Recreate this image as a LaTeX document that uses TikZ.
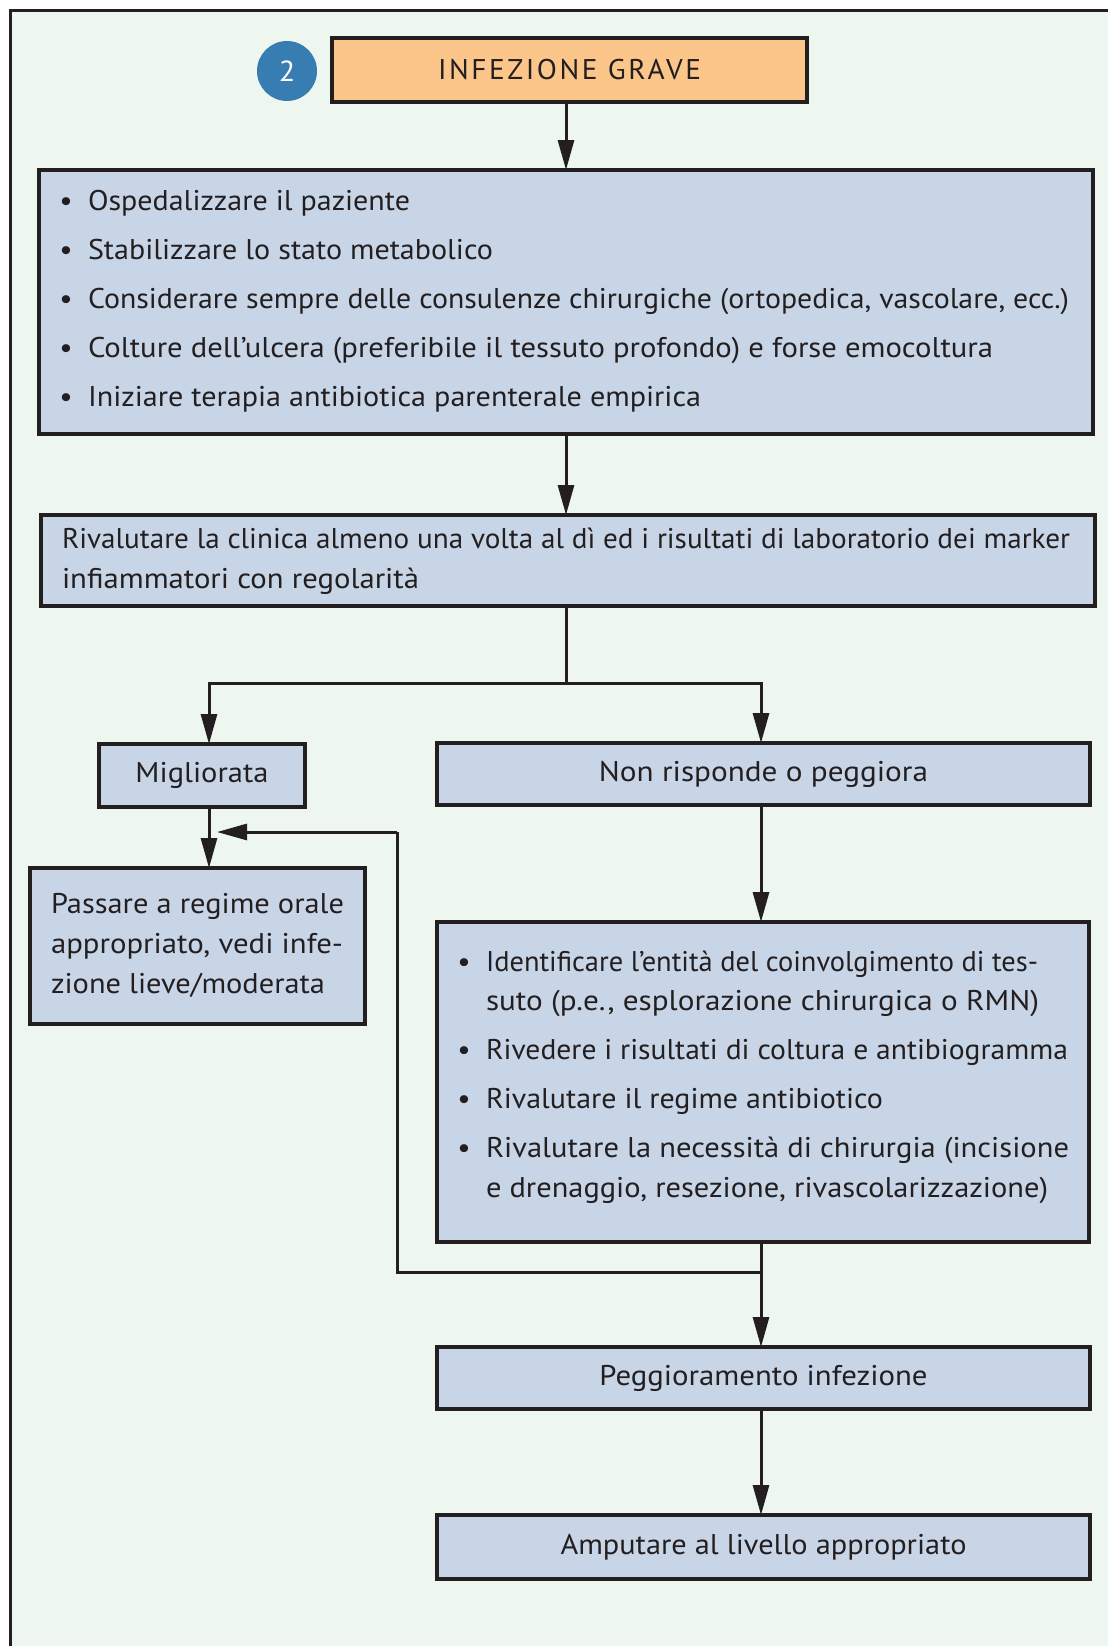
\documentclass[tikz,border=0pt]{standalone}
\usepackage{fontspec}
\setmainfont{PT Sans}[FakeStretch=1.04]
\usetikzlibrary{arrows.meta}

\definecolor{ink}{HTML}{231F20}
\definecolor{paper}{HTML}{EDF7EF}
\definecolor{boxblue}{HTML}{C8D5E7}
\definecolor{boxorange}{HTML}{FCC68A}
\definecolor{badge}{HTML}{377DB1}

% set a line of text to a given width (in pt), keeping its height
\newcommand\fitw[2]{\resizebox{#1pt}{\height}{#2}}

\tikzset{
  frame/.style={draw=ink, line width=3pt, fill=paper},
  box/.style={draw=ink, line width=3.4pt, fill=boxblue, inner sep=0pt, outer sep=0pt,
    font=\fontsize{28.5}{34}\selectfont, text=ink},
  headbox/.style={box, fill=boxorange},
  txt/.style={inner sep=0pt, outer sep=0pt, font=\fontsize{28.5}{34}\selectfont, text=ink},
  bul/.style={txt, anchor=base},
  line/.style={txt, anchor=base west},
  flow/.style={draw=ink, line width=3pt},
  arr/.style={flow, -{Triangle[length=30pt, width=16pt]}},
}

\begin{document}
\begin{tikzpicture}[x=1pt, y=-1pt]
\useasboundingbox (0,0) rectangle (1108,1646);
\clip (0,0) rectangle (1108,1646);
\fill[white] (0,0) rectangle (1108,1646);
\draw[frame] (10,11) rectangle (1140,1680);

% badge and title
\node[circle, fill=badge, minimum size=60pt, inner sep=0pt, text=white,
  font=\fontsize{29}{32}\selectfont] (badge) at (287,71) {2};
\node[headbox, minimum width=475pt, minimum height=64pt,
  font=\fontsize{28.5}{34}\selectfont\addfontfeature{LetterSpace=9}] (head) at (569.5,70)
  {\fitw{263}{INFEZIONE GRAVE}};

% first action block
\node[box, minimum width=1054pt, minimum height=264pt] (acts) at (566,302) {};
\foreach \y/\w/\t [count=\i] in {210/322/Ospedalizzare il paziente,
  259/405/Stabilizzare lo stato metabolico,
  308/981/{Considerare sempre delle consulenze chirurgiche (ortopedica, vascolare, ecc.)},
  357/905/{Colture dell’ulcera (preferibile il tessuto profondo) e forse emocoltura},
  406/613/Iniziare terapia antibiotica parenterale empirica}{
  \node[bul] (actsb\i) at (66,\y) {\textbullet};
  \node[line] (actst\i) at (88,\y) {\fitw{\w}{\t}};
}

% reassessment
\node[box, minimum width=1054pt, minimum height=91pt] (reval) at (568,560.5) {};
\node[line] (revall1) at (62,548) {\fitw{1008}{Rivalutare la clinica almeno una volta al dì ed i risultati di laboratorio dei marker}};
\node[line] (revall2) at (62,588) {\fitw{357}{infiammatori con regolarità}};

% outcomes
\node[box, minimum width=206pt, minimum height=63pt] (better) at (202,775.5) {\fitw{133}{Migliorata}};
\node[box, minimum width=653pt, minimum height=62pt] (worse) at (763.5,774) {\fitw{329}{Non risponde o peggiora}};

\node[box, minimum width=335pt, minimum height=156pt] (oral) at (197.5,946) {};
\node[line] (orall1) at (51,913) {\fitw{293}{Passare a regime orale}};
\node[line] (orall2) at (51,953) {\fitw{292}{appropriato, vedi infe-}};
\node[line] (orall3) at (51,993) {\fitw{274}{zione lieve/moderata}};

\node[box, minimum width=652pt, minimum height=320pt] (review) at (763,1082) {};
\foreach \y/\w/\t [count=\i] in {971/552/{Identificare l’entità del coinvolgimento di tes-},
  1059/582/Rivedere i risultati di coltura e antibiogramma,
  1108/397/Rivalutare il regime antibiotico,
  1157/583/Rivalutare la necessità di chirurgia (incisione}{
  \node[bul] (reviewb\i) at (464,\y) {\textbullet};
  \node[line] (reviewt\i) at (486,\y) {\fitw{\w}{\t}};
}
\node[line] (reviewc1) at (486,1010) {\fitw{553}{suto (p.e., esplorazione chirurgica o RMN)}};
\node[line] (reviewc4) at (486,1197) {\fitw{562}{e drenaggio, resezione, rivascolarizzazione)}};

\node[box, minimum width=653pt, minimum height=62pt] (worsening) at (763.5,1378) {\fitw{328}{Peggioramento infezione}};
\node[box, minimum width=653pt, minimum height=64pt] (amput) at (763.5,1547) {\fitw{406}{Amputare al livello appropriato}};

% connectors
\coordinate (split) at (566,683);
\coordinate (joinR) at (761,1272);
\coordinate (joinL) at (397,1272);
\coordinate (backT) at (397,832);
\coordinate (backE) at (217,832);

\draw[arr] (head.south -| acts.north) -- (acts.north);
\draw[arr] (acts.south) -- (acts.south |- reval.north);
\draw[flow] (reval.south -| split) -- (split);
\draw[arr] (split) -| (better.north -| 209,0);
\draw[arr] (split) -| (worse.north -| 761,0);
\draw[arr] (better.south -| 209,0) -- (oral.north -| 209,0);
\draw[arr] (worse.south -| 761,0) -- (review.north -| 761,0);
\draw[arr] (review.south -| 761,0) -- (worsening.north -| 761,0);
\draw[flow] (joinR) -- (joinL) -- (backT);
\draw[arr] (backT) -- (backE);
\draw[arr] (worsening.south -| 761,0) -- (amput.north -| 761,0);
\end{tikzpicture}
\end{document}
